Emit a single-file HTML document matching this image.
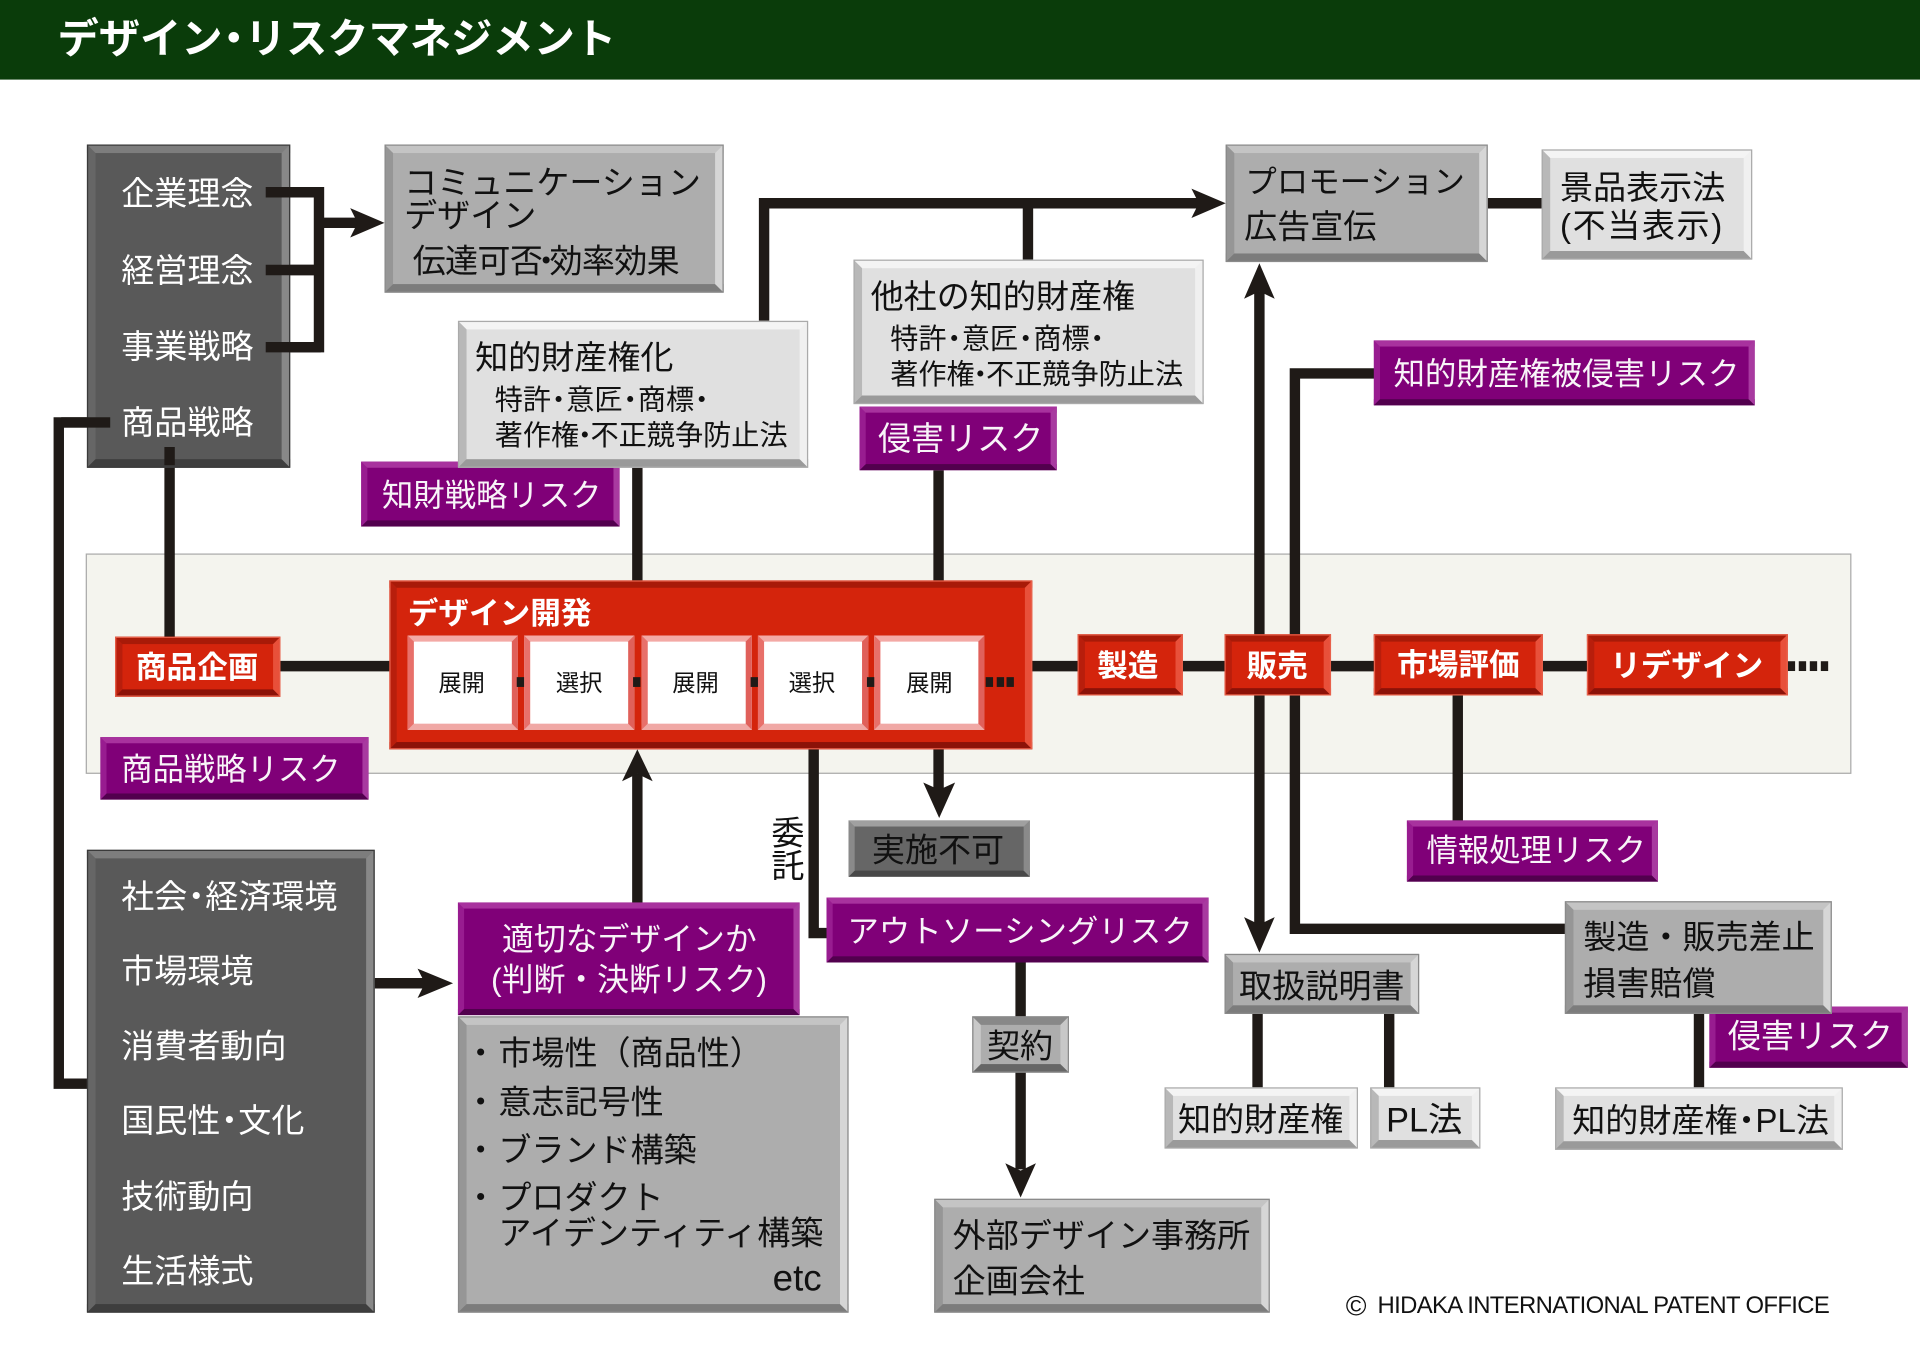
<!DOCTYPE html>
<html lang="ja"><head><meta charset="utf-8"><title>デザイン・リスクマネジメント</title>
<style>
html,body{margin:0;padding:0;background:#fff;width:1920px;height:1358px;overflow:hidden}
#c{position:absolute;left:0;top:0;width:1568px;height:1109px;transform:scale(1.22449);transform-origin:0 0;font-family:"Liberation Sans","Noto Sans CJK JP",sans-serif;color:#111}
.b{position:absolute;box-sizing:border-box;border-style:solid;border-width:7px}
.d{background:#595959;border-color:#7d7d7d #888 #3e3e3e #666;outline:1px solid #3a3a3a;outline-offset:-1px}
.g{background:#adadad;border-color:#c4c4c4 #d6d6d6 #7c7c7c #969696;outline:1px solid #8a8a8a;outline-offset:-1px}
.l{background:#e0e0e0;border-color:#f4f4f4 #f0f0f0 #9a9a9a #b8b8b8;outline:1px solid #aaa;outline-offset:-1px}
.k{background:#666;border-color:#a0a0a0 #8a8a8a #484848 #8a8a8a;border-width:5px}
.p{background:#800078;border-color:#a8329e #a83aa0 #52004e #981c90;border-width:5px}
.r{background:#d4240c;border-color:#a81a08 #e8503a #8c1208 #b81e0c;border-width:6px;outline:1px solid #e8604a;outline-offset:-1px}
.w{background:#fff;border-color:#f3a9a5 #e0605a #f0a8a5 #e8706a;border-width:5px}
.t{position:absolute;white-space:nowrap;line-height:1;transform:translateY(-50%);margin-top:1.500px;font-size:27px}
.f{color:#fff}
.v{color:#f8f4f8}
.h{color:#fff;font-weight:700;font-size:25px}
.s{font-size:23px}
.n{font-style:normal;margin:0 -.38em}
.m{font-style:normal;margin:0 -.23em}
svg{position:absolute;left:0;top:0}
.q{position:absolute;background:#1f1a17}
</style></head><body><div id="c">
<div style="position:absolute;left:0;top:0;width:1568px;height:65px;background:#0a3c0a"></div>
<span class="t" style="left:47px;top:31px;font-size:33.700px;font-weight:700;color:#fff">デザイン<i class="m">・</i>リスクマネジメント</span>

<div style="position:absolute;box-sizing:border-box;left:70px;top:452px;width:1442px;height:180px;background:#f4f4ee;border:1px solid #aaa"></div>

<svg width="1568" height="1109" viewBox="0 0 1568 1109" fill="none" stroke="#1f1a17" stroke-width="8.5" stroke-linejoin="miter">
<path d="M217 157H260.5V283.5H217M217 220.500H260.500M260.500 182H292"/>
<path d="M90 345H48V885H72"/>
<path d="M138.500 365V522"/>
<path d="M520.500 382V476"/>
<path d="M624 264V166H980M839.500 166V214"/>
<path d="M1215 166H1260"/>
<path d="M766.500 384V476"/>
<path d="M1028.500 238V755"/>
<path d="M1123 305H1057.500V758.500H1280"/>
<path d="M229 544H320M842 544H881M965 544H1002M1086 544H1123M1259 544H1297"/>
<path d="M1190.500 566V671"/>
<path d="M664.500 610V762H677"/>
<path d="M766.500 610V648"/>
<path d="M520.500 738V632"/>
<path d="M306 803H348"/>
<path d="M833.500 785V832M833.500 875V955"/>
<path d="M1027 827V890M1134.500 827V890M1387.500 827V890"/>
<g fill="#1f1a17" stroke="none">
<polygon points="286,170 314,182 286,194 292,182"/>
<polygon points="973,154 1001,166 973,178 979,166"/>
<polygon points="1028.500,215 1016,244 1028.500,238 1041,244"/>
<polygon points="1028.500,778 1016,749 1028.500,755 1041,749"/>
<polygon points="767,668 754,639 767,645 780,639"/>
<polygon points="520.500,612 508,638 520.500,632 533,638"/>
<polygon points="370,803 341,791 347,803 341,815"/>
<polygon points="833.500,978 821,950 833.500,956 846,950"/>
</g>
</svg>
<div class="q" style="left:1460px;top:540px;width:6px;height:8px"></div>
<div class="q" style="left:1469px;top:540px;width:6px;height:8px"></div>
<div class="q" style="left:1478px;top:540px;width:6px;height:8px"></div>
<div class="q" style="left:1487px;top:540px;width:6px;height:8px"></div>

<!-- left dark -->
<div class="b d" style="left:71px;top:118px;width:166px;height:264px"></div>
<svg width="1568" height="1109" viewBox="0 0 1568 1109" fill="none" stroke="#1f1a17" stroke-width="8.500">
<path d="M217 157H262M217 220.500H262M217 283.500H262M90 345H50M138.500 365V380"/>
</svg>
<span class="t f" style="left:99px;top:157px">企業理念</span>
<span class="t f" style="left:99px;top:220px">経営理念</span>
<span class="t f" style="left:99px;top:282px">事業戦略</span>
<span class="t f" style="left:99px;top:344px">商品戦略</span>

<div class="b g" style="left:314px;top:118px;width:277px;height:121px"></div>
<span class="t" style="left:330px;top:148px">コミュニケーション</span>
<span class="t" style="left:330px;top:175px">デザイン</span>
<span class="t" style="left:337px;top:212px;letter-spacing:-.55px">伝達可否<i class="n">・</i>効率効果</span>

<div class="b p" style="left:295px;top:377px;width:211px;height:53px"></div>
<span class="t v" style="left:312px;top:404px;font-size:25.600px">知財戦略リスク</span>

<div class="b l" style="left:373.500px;top:262px;width:286.500px;height:120px"></div>
<span class="t" style="left:388px;top:291px">知的財産権化</span>
<span class="t s" style="left:404px;top:325px">特許<i class="m">・</i>意匠<i class="m">・</i>商標<i class="m">・</i></span>
<span class="t s" style="left:404px;top:354px">著作権<i class="n" style="margin:0 -.3em">・</i>不正競争防止法</span>

<div class="b l" style="left:697px;top:212px;width:286px;height:118px"></div>
<span class="t" style="left:711px;top:241px">他社の知的財産権</span>
<span class="t s" style="left:727px;top:275px">特許<i class="m">・</i>意匠<i class="m">・</i>商標<i class="m">・</i></span>
<span class="t s" style="left:727px;top:304px">著作権<i class="n" style="margin:0 -.3em">・</i>不正競争防止法</span>

<div class="b p" style="left:702px;top:332px;width:161px;height:52px"></div>
<span class="t v" style="left:717px;top:357px">侵害リスク</span>

<div class="b g" style="left:1001px;top:118px;width:214px;height:96px"></div>
<span class="t" style="left:1017px;top:148px;font-size:25.700px">プロモーション</span>
<span class="t" style="left:1016px;top:184px">広告宣伝</span>

<div class="b l" style="left:1259px;top:122px;width:172px;height:90px"></div>
<span class="t" style="left:1274px;top:152px">景品表示法</span>
<span class="t" style="left:1274px;top:183px;letter-spacing:1.300px">(不当表示)</span>

<div class="b p" style="left:1122px;top:278px;width:311px;height:53px"></div>
<span class="t v" style="left:1138px;top:305px;font-size:25.700px">知的財産権被侵害リスク</span>

<!-- band content -->
<div class="b r" style="left:94px;top:520px;width:135px;height:49px"></div>
<span class="t h" style="left:111px;top:544px">商品企画</span>

<div class="b r" style="left:318px;top:474px;width:525px;height:138px"></div>
<span class="t h" style="left:333px;top:500px">デザイン開発</span>
<div class="b w" style="left:333px;top:519px;width:90px;height:77px"></div>
<div class="b w" style="left:428px;top:519px;width:90px;height:77px"></div>
<div class="b w" style="left:523.500px;top:519px;width:90px;height:77px"></div>
<div class="b w" style="left:619px;top:519px;width:90px;height:77px"></div>
<div class="b w" style="left:714px;top:519px;width:90px;height:77px"></div>
<div class="q" style="left:422px;top:553px;width:6px;height:8px"></div>
<div class="q" style="left:517px;top:553px;width:6px;height:8px"></div>
<div class="q" style="left:612.500px;top:553px;width:6px;height:8px"></div>
<div class="q" style="left:708px;top:553px;width:6px;height:8px"></div>
<div class="q" style="left:805px;top:553px;width:6px;height:8px"></div>
<div class="q" style="left:813.500px;top:553px;width:6px;height:8px"></div>
<div class="q" style="left:822px;top:553px;width:6px;height:8px"></div>
<span class="t" style="left:358px;top:557px;font-size:19px">展開</span>
<span class="t" style="left:454px;top:557px;font-size:19px">選択</span>
<span class="t" style="left:549px;top:557px;font-size:19px">展開</span>
<span class="t" style="left:644px;top:557px;font-size:19px">選択</span>
<span class="t" style="left:740px;top:557px;font-size:19px">展開</span>

<div class="b r" style="left:880px;top:518px;width:86px;height:50px"></div>
<span class="t h" style="left:896px;top:543px">製造</span>
<div class="b r" style="left:1000px;top:518px;width:87px;height:50px"></div>
<span class="t h" style="left:1018px;top:543px">販売</span>
<div class="b r" style="left:1122px;top:518px;width:138px;height:50px"></div>
<span class="t h" style="left:1141px;top:542px">市場評価</span>
<div class="b r" style="left:1296px;top:518px;width:164px;height:50px"></div>
<span class="t h" style="left:1315px;top:543px">リデザイン</span>

<div class="b p" style="left:82px;top:602px;width:219px;height:51px"></div>
<span class="t v" style="left:99px;top:628px;font-size:25.600px">商品戦略リスク</span>

<div class="b k" style="left:693px;top:670px;width:148px;height:46px"></div>
<span class="t" style="left:712px;top:693px">実施不可</span>

<div class="b p" style="left:1149px;top:670px;width:205px;height:50px"></div>
<span class="t v" style="left:1165px;top:694px;font-size:25.600px">情報処理リスク</span>

<span class="t" style="left:627px;top:691px;writing-mode:vertical-rl;font-size:27px">委託</span>

<!-- lower left -->
<div class="b d" style="left:71px;top:694px;width:235px;height:378px"></div>
<span class="t f" style="left:99px;top:731px">社会<i class="m">・</i>経済環境</span>
<span class="t f" style="left:99px;top:792px">市場環境</span>
<span class="t f" style="left:99px;top:853px">消費者動向</span>
<span class="t f" style="left:99px;top:914px">国民性<i class="m">・</i>文化</span>
<span class="t f" style="left:99px;top:976px">技術動向</span>
<span class="t f" style="left:99px;top:1037px">生活様式</span>

<div class="b g" style="left:373.500px;top:830px;width:319.500px;height:242px"></div>
<div class="b p" style="left:373.500px;top:737px;width:279.500px;height:92px"></div>
<span class="t v" style="left:410px;top:765px;font-size:26px">適切なデザインか</span>
<span class="t v" style="left:401px;top:798px;font-size:26px">(判断・決断リスク)</span>
<span class="t" style="left:379px;top:859px">・</span><span class="t" style="left:407px;top:859px">市場性（商品性）</span>
<span class="t" style="left:379px;top:899px">・</span><span class="t" style="left:407px;top:899px">意志記号性</span>
<span class="t" style="left:379px;top:938px">・</span><span class="t" style="left:407px;top:938px">ブランド構築</span>
<span class="t" style="left:379px;top:977px">・</span><span class="t" style="left:407px;top:977px">プロダクト</span>
<span class="t" style="left:407px;top:1006px">アイデンティティ構築</span>
<span class="t" style="left:631px;top:1043px;font-size:30px">etc</span>

<div class="b p" style="left:675px;top:733px;width:312px;height:53px"></div>
<span class="t v" style="left:692px;top:760px;font-size:25.700px">アウトソーシングリスク</span>

<div class="b g" style="left:794px;top:830px;width:79px;height:46px;border-color:#888 #c8c8c8 #666 #c8c8c8"></div>
<span class="t" style="left:806px;top:853px">契約</span>

<div class="b g" style="left:763px;top:979px;width:274px;height:93px"></div>
<span class="t" style="left:778px;top:1008px">外部デザイン事務所</span>
<span class="t" style="left:778px;top:1045px">企画会社</span>

<div class="b g" style="left:1000px;top:779px;width:159px;height:49px"></div>
<span class="t" style="left:1012px;top:804px">取扱説明書</span>

<div class="b p" style="left:1396px;top:822px;width:162px;height:50px"></div>
<span class="t v" style="left:1411px;top:845px">侵害リスク</span>
<div class="b g" style="left:1278px;top:736px;width:218px;height:92px"></div>
<span class="t" style="left:1293px;top:764px">製造・販売差止</span>
<span class="t" style="left:1293px;top:802px">損害賠償</span>

<div class="b l" style="left:951px;top:888px;width:158px;height:50px"></div>
<span class="t" style="left:962px;top:913px">知的財産権</span>
<div class="b l" style="left:1119px;top:888px;width:90px;height:50px"></div>
<span class="t" style="left:1132px;top:913px;font-size:28px">PL法</span>
<div class="b l" style="left:1270px;top:888px;width:235px;height:51px"></div>
<span class="t" style="left:1284px;top:914px">知的財産権<i class="m">・</i>PL法</span>

<span class="t" style="left:1099px;top:1065px;font-size:23px">©</span>
<span class="t" style="left:1125px;top:1065px;font-size:19.500px;letter-spacing:-.53px">HIDAKA INTERNATIONAL PATENT OFFICE</span>
</div></body></html>
